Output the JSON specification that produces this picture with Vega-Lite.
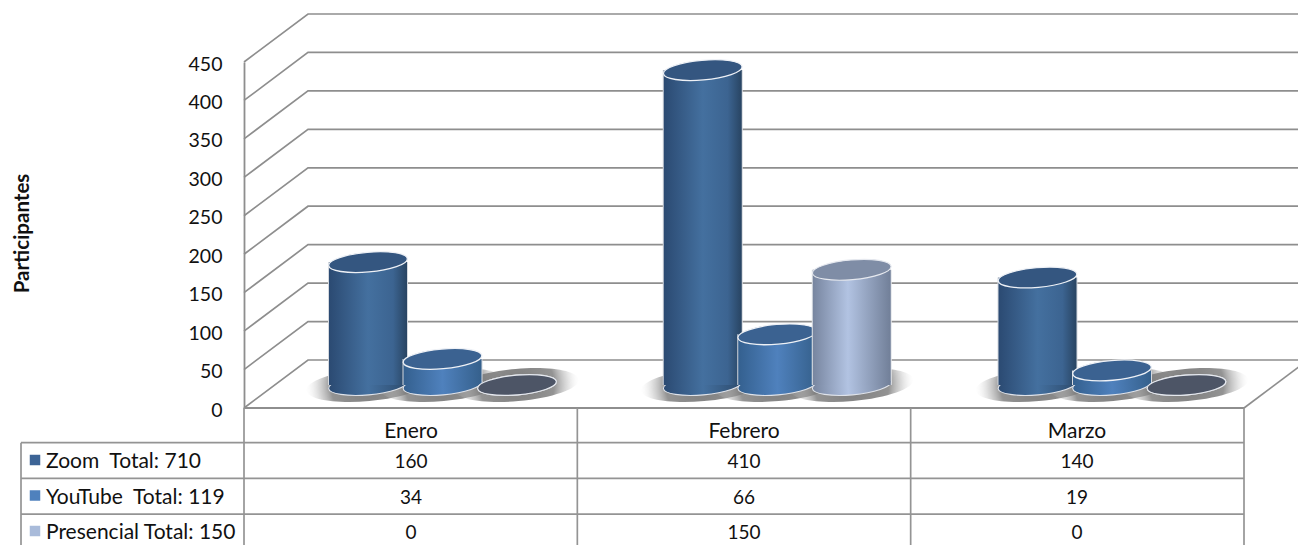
{
"$schema":"https://vega.github.io/schema/vega-lite/v6.json",
"width":1298,"height":545,"padding":0,"autosize":{"type":"none"},"background":"white",
"config":{"view":{"stroke":null},"font":"Lato"},
"datasets":{
"valores":[
{"mes":"Enero","serie":"Zoom","participantes":160},
{"mes":"Febrero","serie":"Zoom","participantes":410},
{"mes":"Marzo","serie":"Zoom","participantes":140},
{"mes":"Enero","serie":"YouTube","participantes":34},
{"mes":"Febrero","serie":"YouTube","participantes":66},
{"mes":"Marzo","serie":"YouTube","participantes":19},
{"mes":"Enero","serie":"Presencial","participantes":0},
{"mes":"Febrero","serie":"Presencial","participantes":150},
{"mes":"Marzo","serie":"Presencial","participantes":0}],
"series":[
{"serie":"Zoom","rotulo":"Zoom\u00a0 Total: 710","tono":"Zoom"},
{"serie":"YouTube","rotulo":"YouTube\u00a0 Total: 119","tono":"YouTube"},
{"serie":"Presencial","rotulo":"Presencial Total: 150","tono":"Presencial"}],
"meses":[{"mes":"Enero"},{"mes":"Febrero"},{"mes":"Marzo"}],
"escala":[{"nivel":0},{"nivel":50},{"nivel":100},{"nivel":150},{"nivel":200},{"nivel":250},{"nivel":300},{"nivel":350},{"nivel":400},{"nivel":450}],
"filas":[{"fila":0},{"fila":1},{"fila":2}],
"columnas":[{"columna":0},{"columna":1},{"columna":2},{"columna":3}]
},
"resolve":{"scale":{"x":"independent","y":"independent","xOffset":"independent"},"axis":{"y":"independent","x":"independent"}},
"layer":[
{"data":{"name":"escala"},
 "mark":{"type":"point","filled":false,"stroke":"#8e8e8e","strokeWidth":1.7,"opacity":1,"shape":"M0,0L2,-1.5L32.97,-1.5","size":4096},
 "encoding":{
  "x":{"datum":0,"type":"quantitative","scale":{"domain":[0,1],"range":[244,1244]},"axis":null},
  "y":{"field":"nivel","type":"quantitative","scale":{"domain":[0,450],"range":[408,62]},
   "axis":{"values":[0,50,100,150,200,250,300,350,400,450],"orient":"left","offset":-244,"ticks":false,"grid":false,"domainColor":"#8e8e8e","domainWidth":1.8,"labelFont":"Lato","labelFontSize":19.5,"labelColor":"#111111","labelPadding":22,"labelOffset":2,"title":"Participantes","titleFont":"Lato","titleFontSize":20.5,"titleFontWeight":"bold","titleColor":"#111111","titleX":-212,"titleY":233}}
 }},
{"data":{"values":[{"nivel":0}]},
 "mark":{"type":"point","filled":false,"stroke":"#8e8e8e","strokeWidth":1.7,"opacity":1,"shape":"M0,0L2,-1.5","size":4096},
 "encoding":{
  "x":{"datum":1,"type":"quantitative","scale":{"domain":[0,1],"range":[244,1244]},"axis":null},
  "y":{"field":"nivel","type":"quantitative","scale":{"domain":[0,450],"range":[408,62]},"axis":null}
 }},
{"data":{"name":"valores"},
 "encoding":{
  "x":{"field":"mes","type":"nominal","sort":null,"scale":{"type":"point","padding":0,"domain":["Enero","Febrero","Marzo"],"range":[442.5,1112]},"axis":null},
  "xOffset":{"field":"serie","type":"nominal","scale":{"type":"point","padding":0,"domain":["Zoom","YouTube","Presencial"],"range":[-74.5,74.5]}},
  "y":{"field":"participantes","type":"quantitative","scale":{"domain":[0,450],"range":[385,39.4]},"axis":null}
 },
 "layer":[
 {"mark":{"type":"point","filled":true,"opacity":1,"strokeWidth":0,"angle":-5,"size":15376,"shape":"M-1,0A1,0.26,0,1,1,1,0A1,0.26,0,1,1,-1,0Z","fill":{"gradient":"radial","x1":0.5,"y1":0.5,"r1":0,"x2":0.5,"y2":0.5,"r2":0.5,"stops":[{"offset":0,"color":"rgba(110,110,110,0.9)"},{"offset":0.6,"color":"rgba(120,120,120,0.8)"},{"offset":0.8,"color":"rgba(175,175,175,0.45)"},{"offset":1,"color":"rgba(230,230,230,0)"}]}},
  "encoding":{"y":{"datum":0,"type":"quantitative","scale":{"domain":[0,450],"range":[385,39.4]},"axis":null}}},

 {"transform":[{"filter":{"field":"serie","equal":"Zoom"}}],"mark":{"type":"bar","size":80,"fill":"#d4d8de"}},
 {"transform":[{"filter":{"field":"serie","equal":"Zoom"}}],"mark":{"type":"point","filled":true,"opacity":1,"angle":-5,"size":6241,"shape":"M-1,0A1,0.25,0,1,1,1,0A1,0.25,0,1,1,-1,0Z","stroke":"#dfe3ea","strokeWidth":1.1,"fill":{"gradient":"linear","x1":0,"x2":1,"y1":0,"y2":0,"stops":[{"offset":0,"color":"#2b4a72"},{"offset":0.5,"color":"#44709f"},{"offset":1,"color":"#2c4a6c"}]}},
  "encoding":{"y":{"datum":0,"type":"quantitative","scale":{"domain":[0,450],"range":[385,39.4]},"axis":null}}},
 {"transform":[{"filter":{"field":"serie","equal":"Zoom"}}],"mark":{"type":"bar","size":78,"fill":{"gradient":"linear","x1":0,"x2":1,"y1":0,"y2":0,"stops":[{"offset":0,"color":"#2b4a72"},{"offset":0.5,"color":"#44709f"},{"offset":0.82,"color":"#3c6491"},{"offset":1,"color":"#284462"}]}}},
 {"transform":[{"filter":{"field":"serie","equal":"Zoom"}}],"mark":{"type":"point","filled":true,"opacity":1,"angle":-5,"size":6241,"shape":"M-1,0A1,0.25,0,1,1,1,0A1,0.25,0,1,1,-1,0Z","stroke":"#eef1f6","strokeWidth":1.3,"fill":"#345680"}},

 {"transform":[{"filter":{"field":"serie","equal":"YouTube"}}],"mark":{"type":"bar","size":80,"fill":"#d4d8de"}},
 {"transform":[{"filter":{"field":"serie","equal":"YouTube"}}],"mark":{"type":"point","filled":true,"opacity":1,"angle":-5,"size":6241,"shape":"M-1,0A1,0.25,0,1,1,1,0A1,0.25,0,1,1,-1,0Z","stroke":"#dfe3ea","strokeWidth":1.1,"fill":{"gradient":"linear","x1":0,"x2":1,"y1":0,"y2":0,"stops":[{"offset":0,"color":"#34608f"},{"offset":0.5,"color":"#4f81bd"},{"offset":1,"color":"#35608c"}]}},
  "encoding":{"y":{"datum":0,"type":"quantitative","scale":{"domain":[0,450],"range":[385,39.4]},"axis":null}}},
 {"transform":[{"filter":{"field":"serie","equal":"YouTube"}}],"mark":{"type":"bar","size":78,"fill":{"gradient":"linear","x1":0,"x2":1,"y1":0,"y2":0,"stops":[{"offset":0,"color":"#34608f"},{"offset":0.5,"color":"#4f81bd"},{"offset":1,"color":"#35608c"}]}}},
 {"transform":[{"filter":{"field":"serie","equal":"YouTube"}}],"mark":{"type":"point","filled":true,"opacity":1,"angle":-5,"size":6241,"shape":"M-1,0A1,0.25,0,1,1,1,0A1,0.25,0,1,1,-1,0Z","stroke":"#eef1f6","strokeWidth":1.3,"fill":"#3b6291"}},

 {"transform":[{"filter":{"field":"serie","equal":"Presencial"}}],"mark":{"type":"bar","size":80,"fill":"#e3e6ea"}},
 {"transform":[{"filter":{"field":"serie","equal":"Presencial"}}],"mark":{"type":"point","filled":true,"opacity":1,"angle":-5,"size":6241,"shape":"M-1,0A1,0.25,0,1,1,1,0A1,0.25,0,1,1,-1,0Z","stroke":"#dfe3ea","strokeWidth":1.1,"fill":{"gradient":"linear","x1":0,"x2":1,"y1":0,"y2":0,"stops":[{"offset":0,"color":"#77859f"},{"offset":0.45,"color":"#b2c3e2"},{"offset":1,"color":"#717f98"}]}},
  "encoding":{"y":{"datum":0,"type":"quantitative","scale":{"domain":[0,450],"range":[385,39.4]},"axis":null}}},
 {"transform":[{"filter":{"field":"serie","equal":"Presencial"}}],"mark":{"type":"bar","size":78,"fill":{"gradient":"linear","x1":0,"x2":1,"y1":0,"y2":0,"stops":[{"offset":0,"color":"#77859f"},{"offset":0.45,"color":"#b2c3e2"},{"offset":1,"color":"#717f98"}]}}},
 {"transform":[{"filter":{"field":"serie","equal":"Presencial"}}],"mark":{"type":"point","filled":true,"opacity":1,"angle":-5,"size":6241,"shape":"M-1,0A1,0.25,0,1,1,1,0A1,0.25,0,1,1,-1,0Z","stroke":"#e6e9ef","strokeWidth":1.2},
  "encoding":{"fill":{"condition":{"test":"datum.participantes===0","value":"#4d5566"},"value":"#7f8da6"}}}
 ]},
{"data":{"name":"filas"},
 "mark":{"type":"rule","stroke":"#949494","strokeWidth":1.7},
 "encoding":{
  "x":{"datum":-0.669,"type":"quantitative","scale":{"domain":[0,3],"range":[244,1244]},"axis":null},
  "x2":{"datum":3},
  "y":{"field":"fila","type":"quantitative","scale":{"domain":[-0.97,3],"range":[408,549.8]},"axis":null}
 }},
{"data":{"values":[{"fila":-0.97}]},
 "mark":{"type":"rule","stroke":"#8e8e8e","strokeWidth":1.8},
 "encoding":{
  "x":{"datum":0,"type":"quantitative","scale":{"domain":[0,3],"range":[244,1244]},"axis":null},
  "x2":{"datum":3},
  "y":{"field":"fila","type":"quantitative","scale":{"domain":[-0.97,3],"range":[408,549.8]},"axis":null}
 }},
{"data":{"name":"columnas"},
 "mark":{"type":"rule","stroke":"#949494","strokeWidth":1.7},
 "encoding":{
  "x":{"field":"columna","type":"quantitative","scale":{"domain":[0,3],"range":[244,1244]},"axis":null},
  "y":{"datum":-0.97,"type":"quantitative","scale":{"domain":[-0.97,3],"range":[408,549.8]},"axis":null},
  "y2":{"datum":3}
 }},
{"data":{"values":[{"columna":-0.669}]},
 "mark":{"type":"rule","stroke":"#949494","strokeWidth":1.7},
 "encoding":{
  "x":{"field":"columna","type":"quantitative","scale":{"domain":[0,3],"range":[244,1244]},"axis":null},
  "y":{"datum":0,"type":"quantitative","scale":{"domain":[-0.97,3],"range":[408,549.8]},"axis":null},
  "y2":{"datum":3}
 }},
{"data":{"name":"meses"},
 "mark":{"type":"text","font":"Lato","fontSize":21,"color":"#111111","baseline":"middle","align":"center"},
 "encoding":{
  "x":{"field":"mes","type":"nominal","sort":null,"scale":{"type":"point","padding":0,"domain":["Enero","Febrero","Marzo"],"range":[411,1077]},"axis":null},
  "y":{"datum":0,"type":"quantitative","scale":{"domain":[0,1],"range":[432,532]},"axis":null},
  "text":{"field":"mes"}
 }},
{"data":{"name":"valores"},
 "mark":{"type":"text","font":"Lato","fontSize":19,"color":"#111111","baseline":"middle","align":"center"},
 "encoding":{
  "x":{"field":"mes","type":"nominal","sort":null,"scale":{"type":"point","padding":0,"domain":["Enero","Febrero","Marzo"],"range":[411,1077]},"axis":null},
  "y":{"field":"serie","type":"nominal","scale":{"type":"point","padding":0,"domain":["Zoom","YouTube","Presencial"],"range":[462,533]},"axis":null},
  "text":{"field":"participantes","type":"quantitative"}
 }},
{"data":{"name":"series"},
 "mark":{"type":"text","font":"Lato","fontSize":21,"color":"#111111","baseline":"middle","align":"left"},
 "encoding":{
  "x":{"datum":0,"type":"quantitative","scale":{"domain":[0,1],"range":[46,1000]},"axis":null},
  "y":{"field":"serie","type":"nominal","scale":{"type":"point","padding":0,"domain":["Zoom","YouTube","Presencial"],"range":[462,533]},"axis":null},
  "text":{"field":"rotulo"}
 }},
{"data":{"name":"series"},
 "mark":{"type":"point","filled":true,"opacity":1,"shape":"square","size":110},
 "encoding":{
  "x":{"datum":0,"type":"quantitative","scale":{"domain":[0,1],"range":[35,1000]},"axis":null},
  "y":{"field":"serie","type":"nominal","scale":{"type":"point","padding":0,"domain":["Zoom","YouTube","Presencial"],"range":[460,531]},"axis":null},
  "fill":{"field":"tono","type":"nominal","scale":{"domain":["Zoom","YouTube","Presencial"],"range":["#3d6496","#4f81bd","#a9bbda"]},"legend":null}
 }}
]
}
